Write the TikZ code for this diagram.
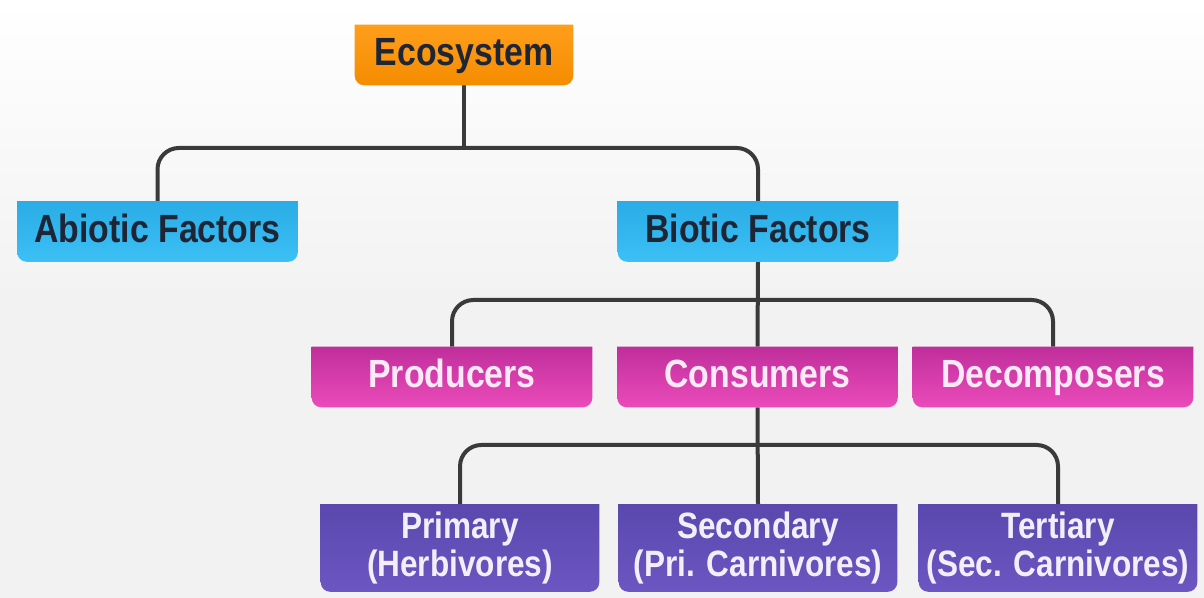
\documentclass[tikz,border=0pt]{standalone}
\usepackage{fontspec}
\newfontfamily\boxfont[FakeStretch=0.86]{Liberation Sans}
\usetikzlibrary{backgrounds,calc}
\definecolor{bgcol}{HTML}{F2F2F2}
\definecolor{conncol}{HTML}{3A3A3A}
\definecolor{orTop}{HTML}{FF9E1C}
\definecolor{orBot}{HTML}{F58C00}
\definecolor{blTop}{HTML}{2AACE6}
\definecolor{blBot}{HTML}{3CC0F5}
\definecolor{mgTop}{HTML}{C02E9C}
\definecolor{mgBot}{HTML}{EA4CBA}
\definecolor{puTop}{HTML}{5A48AE}
\definecolor{puBot}{HTML}{6C56C2}
\definecolor{darktext}{HTML}{1E2535}
\definecolor{lighttext}{HTML}{FBEAF6}
\definecolor{lighttextb}{HTML}{F2EFFB}
\newcommand\tagshape[3]{%
  \shade[top color=#2,bottom color=#3]
    (#1.north west) -- (#1.north east) -- ([yshift=7pt]#1.south east)
    arc[start angle=0,end angle=-90,radius=7pt]
    -- ([xshift=7pt]#1.south west)
    arc[start angle=270,end angle=180,radius=7pt] -- cycle;}
\tikzset{
  lvlbox/.style={inner sep=0pt, align=center, minimum width=210pt, minimum height=45pt,
    text height=21pt, text depth=5pt,
    font=\boxfont\bfseries\fontsize{29.5}{30}\selectfont},
  topbox/.style={lvlbox, text=darktext},
  midbox/.style={lvlbox, text=lighttext},
  lowbox/.style={inner sep=0pt, align=center, text=lighttextb, minimum width=208.5pt, minimum height=65.25pt,
    font=\boxfont\bfseries\fontsize{27.5}{28.5}\selectfont},
  conn/.style={draw=conncol, line width=3pt, rounded corners=16pt}
}
\begin{document}
\begin{tikzpicture}[x=0.75pt,y=-0.75pt]
\useasboundingbox (0,0) rectangle (1204,598);
% nodes
\node[topbox, minimum width=163.5pt] (eco) at (464,55) {Ecosystem};
\node[topbox] (abio) at (157.5,231.5) {Abiotic Factors};
\node[topbox] (bio) at (758,231.5) {Biotic Factors};
\node[midbox] (prod) at (452,377) {Producers};
\node[midbox] (cons) at (757.5,377) {Consumers};
\node[midbox] (deco) at (1053,377) {Decomposers};
\node[lowbox] (prim) at (460,548) {Primary\\(Herbivores)};
\node[lowbox] (seco) at (758,548) {Secondary\\(Pri. Carnivores)};
\node[lowbox] (tert) at (1058,548) {Tertiary\\(Sec. Carnivores)};
\coordinate (h1) at (0,148);
\coordinate (h2) at (0,300);
\coordinate (h3) at (0,445);
\begin{scope}[on background layer]
  \shade[top color=white, bottom color=bgcol, middle color=bgcol] (0,0) rectangle (1204,598);
  % connectors
  \draw[conn] (eco.south) -- (eco.south |- h1);
  \draw[conn] (abio.north) -- (abio.north |- h1) -- (bio.north |- h1) -- (bio.north);
  \draw[conn] (bio.south) -- (cons.north);
  \draw[conn] (prod.north) -- (prod.north |- h2) -- (deco.north |- h2) -- (deco.north);
  \draw[conn] (cons.south) -- (seco.north);
  \draw[conn] (prim.north) -- (prim.north |- h3) -- (tert.north |- h3) -- (tert.north);
  % boxes
  \tagshape{eco}{orTop}{orBot}
  \tagshape{abio}{blTop}{blBot}
  \tagshape{bio}{blTop}{blBot}
  \tagshape{prod}{mgTop}{mgBot}
  \tagshape{cons}{mgTop}{mgBot}
  \tagshape{deco}{mgTop}{mgBot}
  \tagshape{prim}{puTop}{puBot}
  \tagshape{seco}{puTop}{puBot}
  \tagshape{tert}{puTop}{puBot}
\end{scope}
\end{tikzpicture}
\end{document}
